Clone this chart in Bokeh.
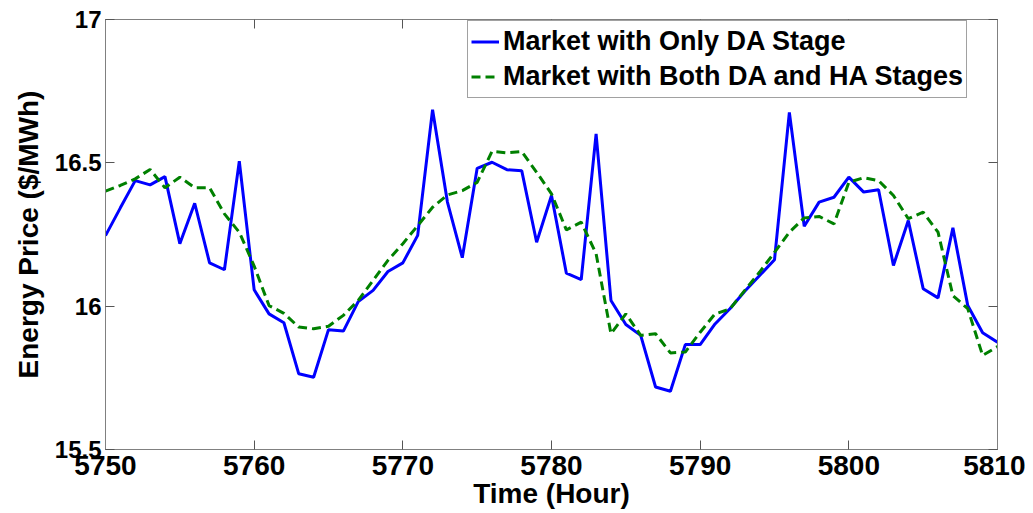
from bokeh.plotting import figure
from bokeh.models import LinearAxis, FixedTicker, CustomJSTickFormatter, Range1d
from bokeh.embed import file_html
from bokeh.resources import INLINE

hours = list(range(5750, 5811))

da_only = [16.246, 16.343, 16.438, 16.423, 16.452, 16.218, 16.359, 16.151, 16.127, 16.506,
           16.057, 15.973, 15.942, 15.764, 15.752, 15.918, 15.913, 16.016, 16.055, 16.121,
           16.151, 16.247, 16.685, 16.363, 16.169, 16.481, 16.502, 16.476, 16.472, 16.223,
           16.386, 16.115, 16.093, 16.601, 16.020, 15.936, 15.898, 15.718, 15.703, 15.866,
           15.866, 15.938, 15.991, 16.052, 16.107, 16.162, 16.676, 16.279, 16.363, 16.380,
           16.450, 16.398, 16.406, 16.142, 16.299, 16.061, 16.029, 16.273, 16.002, 15.907,
           15.874]

da_ha = [16.401, 16.421, 16.444, 16.477, 16.413, 16.450, 16.413, 16.413, 16.322, 16.258,
         16.140, 16.002, 15.975, 15.927, 15.921, 15.930, 15.968, 16.020, 16.090, 16.160,
         16.218, 16.281, 16.345, 16.388, 16.403, 16.432, 16.540, 16.535, 16.539, 16.467,
         16.392, 16.266, 16.293, 16.183, 15.904, 15.973, 15.898, 15.904, 15.837, 15.840,
         15.909, 15.973, 15.990, 16.055, 16.119, 16.188, 16.258, 16.308, 16.313, 16.287,
         16.432, 16.448, 16.438, 16.386, 16.305, 16.328, 16.258, 16.037, 15.991, 15.828,
         15.859]

x_ticks = [5750, 5760, 5770, 5780, 5790, 5800, 5810]
y_ticks = [15.5, 16, 16.5, 17]

FONT = "Liberation Sans"
AXIS_GRAY = "#808080"
TICK_COLOR = "#555555"

p = figure(width=1025, height=513, output_backend="svg", toolbar_location=None,
           x_range=Range1d(5750, 5810), y_range=Range1d(15.5, 17),
           min_border_left=105, min_border_right=28, min_border_top=19, min_border_bottom=64)
p.grid.visible = False
p.outline_line_color = AXIS_GRAY
p.outline_line_width = 1
p.background_fill_color = "white"
p.border_fill_color = "white"

p.line(hours, da_only, line_color="#0000ff", line_width=3, legend_label="Market with Only DA Stage")
p.line(hours, da_ha, line_color="#008000", line_width=3, line_dash="9 5",
       legend_label="Market with Both DA and HA Stages")

fmt = CustomJSTickFormatter(code="return String(tick);")
blank = CustomJSTickFormatter(code="return '';")

xa = p.xaxis[0]
xa.ticker = FixedTicker(ticks=x_ticks)
xa.formatter = fmt
ya = p.yaxis[0]
ya.ticker = FixedTicker(ticks=y_ticks)
ya.formatter = fmt

for ax in (xa, ya):
    ax.axis_line_color = AXIS_GRAY
    ax.major_tick_in = 9
    ax.major_tick_out = 0
    ax.major_tick_line_color = TICK_COLOR
    ax.minor_tick_line_color = None
    ax.major_label_text_font = FONT
    ax.major_label_text_font_style = "bold"
    ax.major_label_text_color = "black"
    ax.axis_label_text_font = FONT
    ax.axis_label_text_font_style = "bold"
    ax.axis_label_text_color = "black"
    ax.axis_label_text_font_size = "28px"

xa.major_label_text_font_size = "28px"
xa.major_label_standoff = 6
xa.axis_label = "Time (Hour)"
xa.axis_label_standoff = 0
ya.major_label_text_font_size = "24px"
ya.major_label_standoff = 4
ya.axis_label = "Energy Price ($/MWh)"
ya.axis_label_standoff = 8

# Matlab-style box ticks on top and right
for loc, ticks in (("above", x_ticks), ("right", y_ticks)):
    ax = LinearAxis(ticker=FixedTicker(ticks=ticks), formatter=blank)
    ax.axis_line_color = AXIS_GRAY
    ax.major_tick_in = 9
    ax.major_tick_out = 0
    ax.major_tick_line_color = TICK_COLOR
    ax.minor_tick_line_color = None
    ax.major_label_standoff = 0
    p.add_layout(ax, loc)

leg = p.legend[0]
leg.location = (362, 351)
leg.margin = 0
leg.padding = 3
leg.spacing = 0
leg.label_text_font = FONT
leg.label_text_font_style = "bold"
leg.label_text_font_size = "27px"
leg.label_text_color = "black"
leg.label_height = 35
leg.glyph_height = 35
leg.glyph_width = 28
leg.label_standoff = 4
leg.border_line_color = "#444444"
leg.border_line_width = 1
leg.background_fill_color = "white"
leg.background_fill_alpha = 1

open("out.html", "w").write(file_html(p, INLINE))
